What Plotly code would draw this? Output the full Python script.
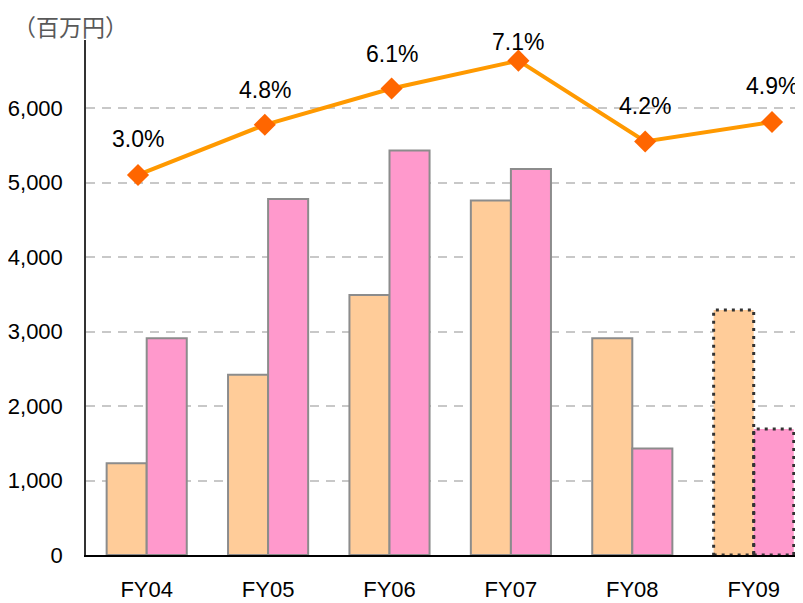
import plotly.graph_objects as go

# ---------------- data ----------------
categories = ["FY04", "FY05", "FY06", "FY07", "FY08", "FY09"]
series_orange = [1230, 2420, 3490, 4760, 2910, 3290]
series_pink = [2910, 4780, 5430, 5180, 1430, 1690]
ratio_pct = [3.0, 4.8, 6.1, 7.1, 4.2, 4.9]
ratio_labels = ["3.0%", "4.8%", "6.1%", "7.1%", "4.2%", "4.9%"]
y_tickvals = [0, 1000, 2000, 3000, 4000, 5000, 6000]
y_ticktext = ["0", "1,000", "2,000", "3,000", "4,000", "5,000", "6,000"]
unit_label = "（百万円）"
forecast_index = 5  # FY09 drawn with dotted outline

# ---------------- style ----------------
PAGE_OFF = 8  # browser default body margin
W, H = 803 - PAGE_OFF, 603 - PAGE_OFF
PLOT_L, PLOT_R, PLOT_T, PLOT_B = 86, 802, 40, 555  # target page pixels
ML, MT = PLOT_L - PAGE_OFF, PLOT_T - PAGE_OFF
MR = W - (PLOT_R - PAGE_OFF)
MB = H - (PLOT_B - PAGE_OFF)
BARGAP = 0.34
FONT = "Arial, Liberation Sans, Noto Sans CJK JP, sans-serif"
ORANGE = "#FFCC99"
PINK = "#FF99CC"
EDGE = "#8c8c8c"
label_yshift = [36, 35, 35, 19, 36, 36]

n = len(categories)
edge_colors = [EDGE if i != forecast_index else "rgba(0,0,0,0)" for i in range(n)]
edge_widths = [2 if i != forecast_index else 0 for i in range(n)]

fig = go.Figure()
fig.add_trace(go.Bar(
    x=categories, y=series_orange, name="A",
    marker=dict(color=ORANGE, line=dict(color=edge_colors, width=edge_widths)),
    xaxis="x", yaxis="y", showlegend=False, hoverinfo="skip"))
fig.add_trace(go.Bar(
    x=categories, y=series_pink, name="B",
    marker=dict(color=PINK, line=dict(color=edge_colors, width=edge_widths)),
    xaxis="x", yaxis="y", showlegend=False, hoverinfo="skip"))
fig.add_trace(go.Scatter(
    x=list(range(n)), y=ratio_pct, mode="lines+markers",
    line=dict(color="#FF9900", width=4),
    marker=dict(symbol="diamond", size=17, color="#FF6600"),
    xaxis="x2", yaxis="y2", showlegend=False, hoverinfo="skip", cliponaxis=False))

# dotted outlines for forecast bars
bw = (1 - BARGAP) / 2
for k, vals in enumerate([series_orange, series_pink]):
    x0 = forecast_index - bw + k * bw
    fig.add_shape(type="rect", xref="x", yref="y",
                  x0=x0, x1=x0 + bw, y0=0, y1=vals[forecast_index],
                  line=dict(color="#333333", width=3, dash="3px,5px"),
                  fillcolor="rgba(0,0,0,0)", layer="above")

plot_w = W - ML - MR
plot_h = H - MT - MB

annotations = []
for i, (v, t) in enumerate(zip(ratio_pct, ratio_labels)):
    annotations.append(dict(x=i, y=v, xref="x2", yref="y2", text=t, showarrow=False,
                            yshift=label_yshift[i], font=dict(family=FONT, size=23, color="#000000")))
annotations.append(dict(xref="paper", yref="paper", x=(11 - PLOT_L) / plot_w,
                        y=1 + (PLOT_T - 25.5) / plot_h,
                        xanchor="left", yanchor="middle", showarrow=False, text=unit_label,
                        font=dict(family="Noto Sans CJK JP", size=23, color="#595959")))

bar_px = 121.4
line_px = 126.8
line_x0_px = 138 - PLOT_L
y_px_per_1000 = 74.5
pct_px = 27.88
zero_pct_px = 258.6 - PLOT_T  # from plot top

fig.update_layout(
    width=W, height=H,
    margin=dict(l=ML, r=MR, t=MT, b=MB, autoexpand=False),
    paper_bgcolor="white", plot_bgcolor="white",
    barmode="group", bargap=BARGAP, bargroupgap=0,
    annotations=annotations,
    xaxis=dict(type="category", range=[-0.5, -0.5 + plot_w / bar_px],
               showgrid=False, showline=True, linecolor="#000000", linewidth=1.5,
               ticks="", tickfont=dict(family=FONT, size=22, color="#000000"),
               ticklabelstandoff=14, automargin=False, zeroline=False),
    xaxis2=dict(overlaying="x", range=[-line_x0_px / line_px, (plot_w - line_x0_px) / line_px],
                visible=False),
    yaxis=dict(range=[0, plot_h / y_px_per_1000 * 1000], tickvals=y_tickvals, ticktext=y_ticktext,
               showgrid=True, gridcolor="#c8c8c8", gridwidth=1.5, griddash="9px,7px",
               showline=True, linecolor="#333333", linewidth=1.5, zeroline=False,
               ticks="", tickfont=dict(family=FONT, size=22, color="#000000"),
               ticklabelstandoff=17, automargin=False),
    yaxis2=dict(overlaying="y", visible=False,
                range=[-(plot_h - zero_pct_px) / pct_px, zero_pct_px / pct_px]),
)

fig.write_html("out.html")
